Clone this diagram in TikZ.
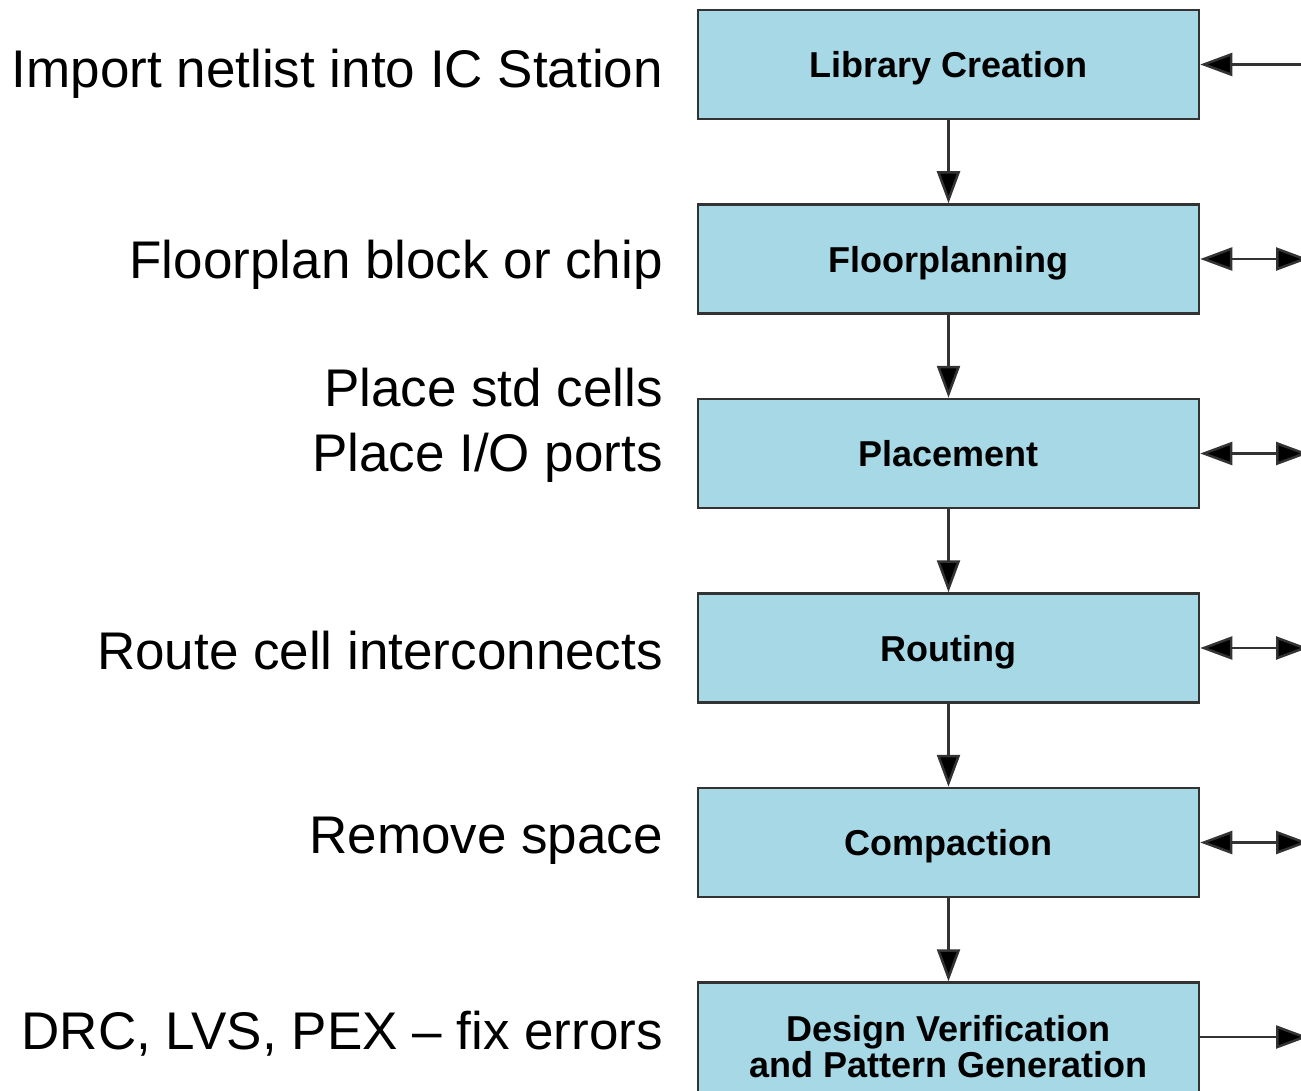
\documentclass[tikz,border=0pt]{standalone}
\usepackage{fontspec}
\setmainfont{Liberation Sans}
\usetikzlibrary{positioning, arrows.meta}
\definecolor{boxblue}{HTML}{A7D8E6}
\definecolor{edgegray}{HTML}{333333}

\begin{document}
\begin{tikzpicture}[x=1pt,y=-1pt,
  stage/.style={draw=edgegray, line width=2.5pt, fill=boxblue, minimum width=501pt,
    minimum height=109pt, text depth=0pt, align=center, font=\fontsize{36}{36}\selectfont\bfseries},
  note/.style={anchor=east, inner sep=0pt, align=right, font=\fontsize{53}{65}\selectfont},
  flow/.style={draw=edgegray, line width=2.5pt},
  node distance=83pt,
  >={Triangle[length=32pt,width=23pt,fill=black]}]
\useasboundingbox (0,0) rectangle (1301,1091);
% design flow stages
\node[stage] (lib) at (948.5,64.5) {Library Creation};
\node[stage, below=of lib] (floor) {Floorplanning};
\node[stage, below=of floor] (place) {Placement};
\node[stage, below=of place] (route) {Routing};
\node[stage, below=of route] (comp) {Compaction};
\node[stage, below=of comp, minimum height=128pt, text depth=] (verif) {Design Verification\\and Pattern Generation};
% notes on the left
\node[note] (nlib) at (663,74) {Import netlist into IC Station};
\node[note] (nfloor) at (663,265) {Floorplan block or chip};
\node[note] (nplace) at (663,425) {Place std cells\\Place I/O ports};
\node[note] (nroute) at (663,651) {Route cell interconnects};
\node[note] (ncomp) at (663,841) {Remove space};
\node[note] (nverif) at (663,1034) {DRC, LVS, PEX -- fix errors};
% flow arrows
\path[flow, ->]
    (lib) edge (floor)
    (floor) edge (place)
    (place) edge (route)
    (route) edge (comp)
    (comp) edge (verif);
% links on the right
\coordinate (olib) at (lib.east -| 1301,0);
\draw[flow, <-] (lib) -- (olib);
\foreach \s in {floor, place, route, comp} {
  \coordinate (o\s) at (\s.east -| 1308,0);
  \draw[flow, <->] (\s) -- (o\s);
}
\coordinate (overif) at (1308,1037);
\draw[flow, ->] (verif.east |- overif) -- (overif);
\end{tikzpicture}
\end{document}
